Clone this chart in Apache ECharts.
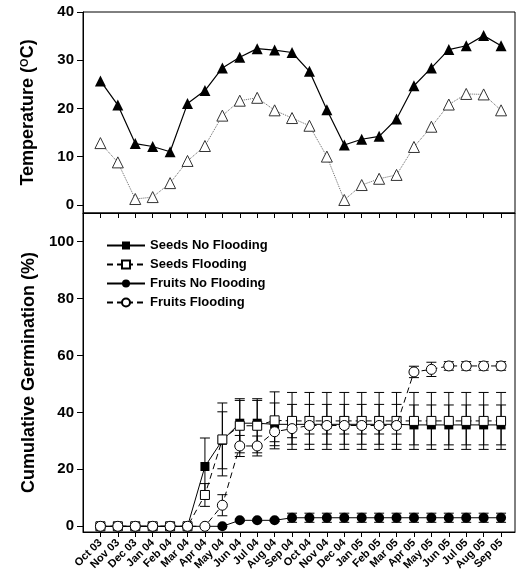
<!DOCTYPE html>
<html>
<head>
<meta charset="utf-8">
<script src="https://cdn.jsdelivr.net/npm/echarts@6/dist/echarts.min.js"></script>
<style>
  html, body { margin: 0; padding: 0; background: #fff; }
  #main { width: 519px; height: 583px; }
</style>
</head>
<body>
<div id="main"></div>
<script>
  // months on the x axis
  var months = ['Oct 03', 'Nov 03', 'Dec 03', 'Jan 04', 'Feb 04', 'Mar 04', 'Apr 04', 'May 04',
    'Jun 04', 'Jul 04', 'Aug 04', 'Sep 04', 'Oct 04', 'Nov 04', 'Dec 04', 'Jan 05',
    'Feb 05', 'Mar 05', 'Apr 05', 'May 05', 'Jun 05', 'Jul 05', 'Aug 05', 'Sep 05']

  // temperature panel
  var tempMax = [25.7, 20.7, 12.7, 12.1, 11.0, 21.0, 23.7, 28.4, 30.6, 32.4, 32.1, 31.6,
    27.7, 19.7, 12.4, 13.6, 14.2, 17.8, 24.7, 28.4, 32.2, 33.0, 35.1, 33.0]
  var tempMin = [12.8, 8.8, 1.2, 1.6, 4.5, 9.1, 12.2, 18.5, 21.6, 22.2, 19.6, 18.0,
    16.4, 10.0, 1.0, 4.1, 5.4, 6.2, 12.0, 16.2, 20.8, 23.0, 22.9, 19.6]

  // germination panel (mean and standard error)
  var seedsNoFlood = [0, 0, 0, 0, 0, 0, 21, 30.2, 36.2, 36.2, 35.8, 35.8,
    35.8, 35.8, 35.8, 35.8, 35.8, 35.8, 35.6, 35.6, 35.6, 35.6, 35.6, 35.6]
  var seedsNoFloodSE = [0, 0, 0, 0, 0, 0, 10, 10, 8, 8, 7.5, 7,
    7, 7, 7, 7, 7, 7, 7, 7, 7, 7, 7, 7]
  var seedsFlood = [0, 0, 0, 0, 0, 0, 11, 30.5, 35.3, 35.3, 37.2, 37,
    37, 37, 37, 37, 37, 37, 37, 37, 37, 37, 37, 37]
  var seedsFloodSE = [0, 0, 0, 0, 0, 0, 4, 12.8, 9.5, 9.5, 10, 10,
    10, 10, 10, 10, 10, 10, 10, 10, 10, 10, 10, 10]
  var fruitsNoFlood = [0, 0, 0, 0, 0, 0, 0, 0, 2.1, 2.1, 2.1, 3,
    3, 3, 3, 3, 3, 3, 3, 3, 3, 3, 3, 3]
  var fruitsNoFloodSE = [0, 0, 0, 0, 0, 0, 0, 0, 0.4, 0.4, 0.4, 1.6,
    1.6, 1.6, 1.6, 1.6, 1.6, 1.6, 1.6, 1.6, 1.6, 1.6, 1.6, 1.6]
  var fruitsFlood = [0, 0, 0, 0, 0, 0, 0, 7.4, 28.2, 28.2, 33.2, 34.3,
    35.4, 35.4, 35.4, 35.4, 35.4, 35.4, 54.2, 55.1, 56.3, 56.3, 56.3, 56.3]
  var fruitsFloodSE = [0, 0, 0, 0, 0, 0, 0, 3.7, 3.7, 3.5, 3.5, 3.2,
    3, 3, 3, 3, 3, 3, 2, 2.5, 1.5, 1.5, 1.5, 1.5]

  var tempTicks = [0, 10, 20, 30, 40]
  var germTicks = [0, 20, 40, 60, 80, 100]

  var FONT = '"Liberation Sans", Arial, sans-serif'
  var idx = months.map(function (m, i) { return i })

  function pts (arr) {
    return arr.map(function (v, i) { return [i, v] })
  }
  function errData (mean, se) {
    var out = []
    mean.forEach(function (v, i) {
      if (se[i] > 0) out.push([i, v - se[i], v + se[i]])
    })
    return out
  }

  // error bars with caps
  function renderErr (params, api) {
    var x = api.value(0)
    var lo = api.coord([x, api.value(1)])
    var hi = api.coord([x, api.value(2)])
    var w = 5
    var st = { stroke: '#000', lineWidth: 1 }
    return {
      type: 'group',
      children: [
        { type: 'line', shape: { x1: hi[0], y1: hi[1], x2: lo[0], y2: lo[1] }, style: st },
        { type: 'line', shape: { x1: hi[0] - w, y1: hi[1], x2: hi[0] + w, y2: hi[1] }, style: st },
        { type: 'line', shape: { x1: lo[0] - w, y1: lo[1], x2: lo[0] + w, y2: lo[1] }, style: st }
      ]
    }
  }

  function errSeries (mean, se) {
    return {
      type: 'custom',
      xAxisIndex: 1,
      yAxisIndex: 1,
      renderItem: renderErr,
      data: errData(mean, se),
      z: 1,
      silent: true
    }
  }

  var xAxisBase = {
    type: 'value',
    min: -1,
    max: 23.8,
    splitLine: { show: false },
    axisLine: { onZero: false, lineStyle: { color: '#000', width: 1 } },
    axisTick: { customValues: idx, length: 5, lineStyle: { color: '#000' } }
  }

  var labelStyle = { color: '#000', fontWeight: 'bold', fontFamily: FONT }

  var option = {
    animation: false,
    backgroundColor: '#fff',
    grid: [
      { left: 83, top: 12, width: 432, height: 201, show: true, borderColor: '#000', borderWidth: 1 },
      { left: 83, top: 213, width: 432, height: 319, show: true, borderColor: '#000', borderWidth: 1 }
    ],
    xAxis: [
      Object.assign({}, xAxisBase, { gridIndex: 0, axisLabel: { show: false } }),
      Object.assign({}, xAxisBase, {
        gridIndex: 1,
        axisLabel: Object.assign({
          customValues: idx,
          rotate: 45,
          fontSize: 11,
          margin: 9,
          formatter: function (v) { return months[Math.round(v)] || '' }
        }, labelStyle)
      })
    ],
    yAxis: [
      {
        gridIndex: 0,
        type: 'value',
        min: -1.7,
        max: 40,
        name: 'Temperature ({sup|O}C)',
        nameLocation: 'middle',
        nameGap: 45,
        nameTextStyle: {
          color: '#000', fontWeight: 'bold', fontSize: 18, fontFamily: FONT,
          rich: { sup: { fontSize: 11, fontWeight: 'bold', fontFamily: FONT, verticalAlign: 'top', padding: [0, 0, 8, 0] } }
        },
        splitLine: { show: false },
        axisLine: { show: true, onZero: false, lineStyle: { color: '#000' } },
        axisTick: { show: true, customValues: tempTicks, length: 6, lineStyle: { color: '#000' } },
        axisLabel: Object.assign({ customValues: tempTicks, fontSize: 15, margin: 9 }, labelStyle)
      },
      {
        gridIndex: 1,
        type: 'value',
        min: -2,
        max: 110,
        name: 'Cumulative Germination (%)',
        nameLocation: 'middle',
        nameGap: 45,
        nameTextStyle: { color: '#000', fontWeight: 'bold', fontSize: 18, fontFamily: FONT },
        splitLine: { show: false },
        axisLine: { show: true, onZero: false, lineStyle: { color: '#000' } },
        axisTick: { show: true, customValues: germTicks, length: 6, lineStyle: { color: '#000' } },
        axisLabel: Object.assign({ customValues: germTicks, fontSize: 15, margin: 9 }, labelStyle)
      }
    ],
    legend: {
      data: ['Seeds No Flooding', 'Seeds Flooding', 'Fruits No Flooding', 'Fruits Flooding'],
      orient: 'vertical',
      left: 101,
      top: 234,
      itemWidth: 38,
      itemHeight: 10,
      itemGap: 6,
      textStyle: { color: '#000', fontWeight: 'bold', fontSize: 13, fontFamily: FONT }
    },
    series: [
      {
        name: 'Max temp',
        type: 'line',
        xAxisIndex: 0,
        yAxisIndex: 0,
        data: pts(tempMax),
        symbol: 'triangle',
        symbolSize: 11,
        itemStyle: { color: '#000' },
        lineStyle: { color: '#000', width: 1.2 }
      },
      {
        name: 'Min temp',
        type: 'line',
        xAxisIndex: 0,
        yAxisIndex: 0,
        data: pts(tempMin),
        symbol: 'triangle',
        symbolSize: 11,
        itemStyle: { color: '#fff', borderColor: '#333', borderWidth: 1 },
        lineStyle: { color: '#666', width: 1, type: 'dotted' }
      },
      errSeries(seedsFlood, seedsFloodSE),
      errSeries(seedsNoFlood, seedsNoFloodSE),
      errSeries(fruitsFlood, fruitsFloodSE),
      errSeries(fruitsNoFlood, fruitsNoFloodSE),
      {
        name: 'Seeds No Flooding',
        type: 'line',
        xAxisIndex: 1,
        yAxisIndex: 1,
        data: pts(seedsNoFlood),
        symbol: 'rect',
        symbolSize: 9,
        itemStyle: { color: '#000' },
        lineStyle: { color: '#000', width: 1 },
        z: 3
      },
      {
        name: 'Seeds Flooding',
        type: 'line',
        xAxisIndex: 1,
        yAxisIndex: 1,
        data: pts(seedsFlood),
        symbol: 'rect',
        symbolSize: 9,
        itemStyle: { color: '#fff', borderColor: '#000', borderWidth: 1 },
        lineStyle: { color: '#000', width: 1, type: [6, 4] },
        z: 4
      },
      {
        name: 'Fruits No Flooding',
        type: 'line',
        xAxisIndex: 1,
        yAxisIndex: 1,
        data: pts(fruitsNoFlood),
        symbol: 'circle',
        symbolSize: 10,
        itemStyle: { color: '#000' },
        lineStyle: { color: '#000', width: 1 },
        z: 3
      },
      {
        name: 'Fruits Flooding',
        type: 'line',
        xAxisIndex: 1,
        yAxisIndex: 1,
        data: pts(fruitsFlood),
        symbol: 'circle',
        symbolSize: 10,
        itemStyle: { color: '#fff', borderColor: '#000', borderWidth: 1 },
        lineStyle: { color: '#000', width: 1, type: [6, 4] },
        z: 5
      }
    ]
  }

  var chart = echarts.init(document.getElementById('main'), null, { renderer: 'canvas' })
  chart.setOption(option)
</script>
</body>
</html>
